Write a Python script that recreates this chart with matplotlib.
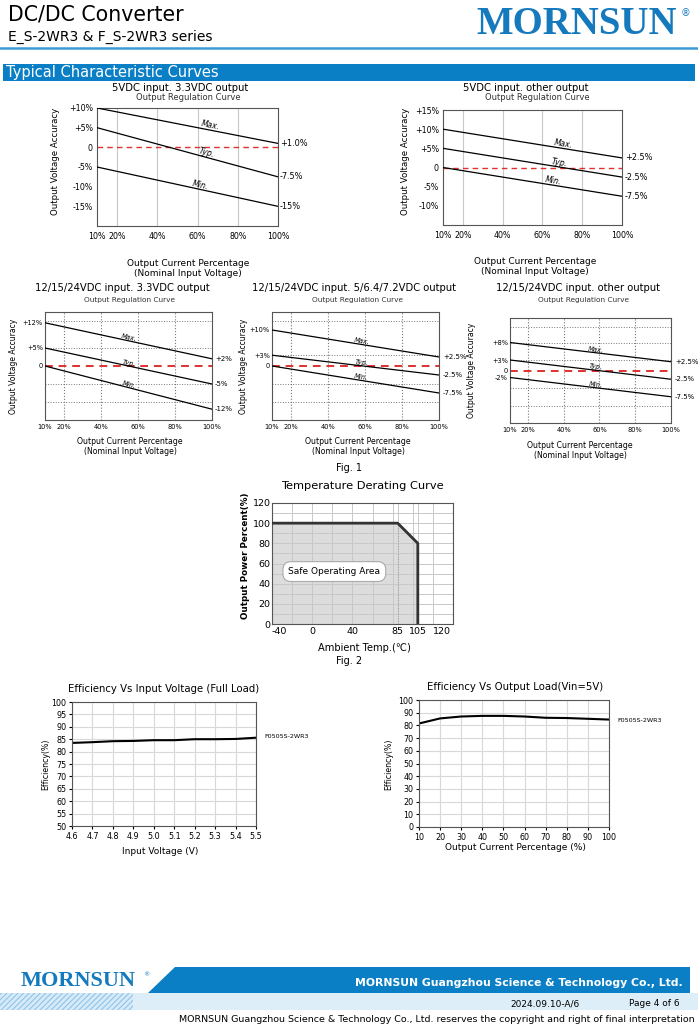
import math
import matplotlib
matplotlib.use("Agg")
import matplotlib.pyplot as plt
from matplotlib.patches import Polygon, Rectangle

W, H = 698, 1027
BLUE = '#0A7FC6'
LOGO = '#1479bd'
GRID = '#c8c8c8'

# ---- data ----
load_ends = [10, 100]

# 5VDC input, 3.3VDC output
c1_max = [10, 1.0]
c1_typ = [5, -7.5]
c1_min = [-5, -15]
# 5VDC input, other output
c2_max = [10, 2.5]
c2_typ = [5, -2.5]
c2_min = [0, -7.5]
# 12/15/24VDC input, 3.3VDC output
c3_max = [12, 2]
c3_typ = [5, -5]
c3_min = [0, -12]
# 12/15/24VDC input, 5/6.4/7.2VDC output
c4_max = [10, 2.5]
c4_typ = [3, -2.5]
c4_min = [0, -7.5]
# 12/15/24VDC input, other output
c5_max = [8, 2.5]
c5_typ = [3, -2.5]
c5_min = [-2, -7.5]

# derating curve
temp = [-40, 85, 105, 105]
power = [100, 100, 80, 0]
temp_ticks = [-40, 0, 40, 85, 105, 120]

# efficiency vs input voltage
vin = [4.6, 4.7, 4.8, 4.9, 5.0, 5.1, 5.2, 5.3, 5.4, 5.5]
eff_vin = [83.5, 83.8, 84.2, 84.3, 84.6, 84.6, 85.0, 85.0, 85.1, 85.6]

# efficiency vs output load
load = [10, 20, 30, 40, 50, 60, 70, 80, 90, 100]
eff_load = [81.5, 85.5, 87.0, 87.5, 87.5, 87.0, 86.0, 85.8, 85.2, 84.6]

fig = plt.figure(figsize=(W / 100, H / 100), dpi=100)
plt.rcParams['font.family'] = ['DejaVu Sans']

# background axes in pixel coordinates (header, footer, loose labels)
bg = fig.add_axes([0, 0, 1, 1], zorder=0)
bg.set_xlim(0, W)
bg.set_ylim(H, 0)
bg.axis('off')


def px_axes(x0, y0, x1, y1):
    return fig.add_axes([x0 / W, 1 - y1 / H, (x1 - x0) / W, (y1 - y0) / H], zorder=2)


def txt(x, y, s, size, **kw):
    kw.setdefault('va', 'center')
    bg.text(x, y, s, fontsize=size, **kw)


# ---- header ----
txt(8, 15, 'DC/DC Converter', 14.8)
txt(8, 37, 'E_S-2WR3 & F_S-2WR3 series', 10)
txt(677, 24, 'MORNSUN', 28, ha='right', color=LOGO, family='Liberation Serif',
    weight='bold')
txt(686, 13, '®', 7, ha='center', color=LOGO)
bg.plot([0, W], [47.5, 47.5], color='#3d9ad9', lw=1.8)
bg.add_patch(Rectangle((3, 64), 692, 17, color=BLUE, lw=0))
txt(6, 73, 'Typical Characteristic Curves', 10.5, color='white')


def reg_chart(box, ylim, yticks, ylabels, hgrid, curves, right_lbls, big, title, tpos, spos,
              ylab_x, xlab_pos, lbl_x, lbl_at):
    ax = px_axes(*box)
    fs = 5.7 if big else 4.8
    ax.set_xlim(10, 100)
    ax.set_ylim(*ylim)
    ax.set_xticks([10, 20, 40, 60, 80, 100])
    ax.set_xticklabels(['10%', '20%', '40%', '60%', '80%', '100%'], fontsize=fs)
    ax.set_yticks(yticks)
    ax.set_yticklabels(ylabels, fontsize=fs)
    ax.tick_params(axis='x', length=0, pad=4.5 if big else 3)
    ax.tick_params(axis='y', length=0, pad=3 if big else 1.5)
    ls = '-' if big else ':'
    for gx in [20, 40, 60, 80]:
        ax.axvline(gx, color=GRID if big else '#777777', lw=0.8, ls=ls, zorder=1)
    for gy in hgrid:
        ax.axhline(gy, color='#777777', lw=0.7, ls=':', zorder=1)
    for s in ax.spines.values():
        s.set_color('#555555')
        s.set_linewidth(0.8)
    ax.axhline(0, color='#e03030', lw=1.0 if big else 1.4, ls=(0, (4, 3)), zorder=2)
    names = ['Max.', 'Typ.', 'Min.']
    for c, name, xm in zip(curves, names, lbl_at):
        ax.plot(load_ends, c, color='black', lw=0.9, zorder=3)
        ang = math.degrees(math.atan2(c[1] - c[0], load_ends[1] - load_ends[0]))
        ym = c[0] + (c[1] - c[0]) * (xm - 10) / 90
        ax.text(xm, ym, name, fontsize=fs, rotation=ang, transform_rotates_text=True,
                rotation_mode='anchor', ha='center', va='bottom', style='italic')
    for c, lbl in zip(curves, right_lbls):
        y_px = box[1] + (ylim[1] - c[1]) / (ylim[1] - ylim[0]) * (box[3] - box[1])
        txt(lbl_x, y_px, lbl, fs + 0.2)
    txt(tpos[0], tpos[1], title, 7.2, ha='center')
    txt(spos[0], spos[1], 'Output Regulation Curve', 6.0 if big else 5.3, ha='center',
        color='#333333')
    txt(ylab_x, (box[1] + box[3]) / 2 - (6 if big else 0), 'Output Voltage Accuracy',
        6.2 if big else 5.5, rotation=90, ha='center')
    xfs = 6.5 if big else 5.6
    txt(xlab_pos[0], xlab_pos[1], 'Output Current Percentage', xfs, ha='center')
    txt(xlab_pos[0], xlab_pos[1] + 10, '(Nominal Input Voltage)', xfs, ha='center')
    return ax


reg_chart((97, 108, 278, 226), (-20, 10), [10, 5, 0, -5, -10, -15],
          ['+10%', '+5%', '0', '-5%', '-10%', '-15%'], [], [c1_max, c1_typ, c1_min],
          ['+1.0%', '-7.5%', '-15%'], True, '5VDC input. 3.3VDC output', (180, 88),
          (188, 97), 56, (188, 263), 280, [66, 64, 61])
reg_chart((443, 110, 622, 225), (-15, 15), [15, 10, 5, 0, -5, -10],
          ['+15%', '+10%', '+5%', '0', '-5%', '-10%'], [], [c2_max, c2_typ, c2_min],
          ['+2.5%', '-2.5%', '-7.5%'], True, '5VDC input. other output', (526, 88),
          (537, 97), 405, (535, 262), 625, [70, 68, 65])
reg_chart((45, 312, 212, 420), (-15, 15), [12, 5, 0], ['+12%', '+5%', '0'],
          [12.5, 5, -5, -10], [c3_max, c3_typ, c3_min], ['+2%', '-5%', '-12%'], False,
          '12/15/24VDC input. 3.3VDC output', (122, 288), (130, 300), 14, (130, 442), 215,
          [55, 55, 55])
reg_chart((272, 312, 439, 420), (-15, 15), [10, 3, 0], ['+10%', '+3%', '0'],
          [12.5, 3, -5, -10], [c4_max, c4_typ, c4_min], ['+2.5%', '-2.5%', '-7.5%'], False,
          '12/15/24VDC input. 5/6.4/7.2VDC output', (354, 288), (358, 300), 244,
          (358, 442), 443, [58, 58, 58])
reg_chart((510, 318, 671, 423), (-15, 15), [8, 3, 0, -2], ['+8%', '+3%', '0', '-2%'],
          [12.5, 8, 3, -5, -10], [c5_max, c5_typ, c5_min], ['+2.5%', '-2.5%', '-7.5%'],
          False, '12/15/24VDC input. other output', (578, 288), (583, 300), 472,
          (580, 445), 675, [58, 58, 58])
txt(349, 468, 'Fig. 1', 7, ha='center')

# ---- derating curve ----
ax = px_axes(272, 503, 453, 624)
ax.set_xlim(-40, 140)
ax.set_ylim(0, 120)
ax.set_xticks(range(-40, 141, 20), minor=True)
ax.set_yticks(range(0, 121, 10), minor=True)
ax.set_xticks(temp_ticks)
ax.set_xticklabels([str(t) for t in temp_ticks])
ax.set_yticks(range(0, 121, 20))
ax.tick_params(labelsize=6.8, length=0, which='both')
ax.tick_params(axis='x', pad=2)
ax.tick_params(axis='y', pad=1)
xl = ax.get_xticklabels()
xl[0].set_horizontalalignment('left')
xl[-1].set_horizontalalignment('left')
ax.grid(True, which='both', color=GRID, lw=0.7)
ax.set_axisbelow(True)
ax.fill_between(temp, power, color='#dcdcdc', zorder=0.3)
ax.plot([85, 85], [0, 100], color='#999999', lw=0.7, ls=':', zorder=2)
ax.plot(temp, power, color='#333333', lw=2, zorder=3)
for s in ax.spines.values():
    s.set_color('#555555')
ax.text(22, 52, 'Safe Operating Area', fontsize=6.5, ha='center', va='center', zorder=4,
        bbox=dict(boxstyle='round,pad=0.6,rounding_size=0.9', fc='white', ec='#aaaaaa', lw=0.8))
txt(362, 486, 'Temperature Derating Curve', 8.2, ha='center')
txt(246, 556, 'Output Power Percent(%)', 6.3, rotation=90, ha='center', weight='bold')
txt(364, 648, 'Ambient Temp.(℃)', 7.1, ha='center')
txt(349, 661, 'Fig. 2', 7, ha='center')

# ---- efficiency vs input voltage ----
ax = px_axes(72, 702, 256, 826)
ax.set_xlim(4.6, 5.5)
ax.set_ylim(50, 100)
ax.set_xticks(vin)
ax.set_xticklabels(['%.1f' % v for v in vin])
ax.set_yticks(range(50, 101, 5))
ax.tick_params(labelsize=5.8, length=2, pad=2)
ax.grid(True, color='#d8d8d8', lw=0.8)
ax.set_axisbelow(True)
ax.plot(vin, eff_vin, color='black', lw=1.5)
for s in ax.spines.values():
    s.set_color('#555555')
txt(164, 689, 'Efficiency Vs Input Voltage (Full Load)', 7.3, ha='center')
txt(46, 764, 'Efficiency(%)', 5.7, rotation=90, ha='center')
txt(160, 851, 'Input Voltage (V)', 6.5, ha='center')
txt(264, 737, 'F0505S-2WR3', 4.6)

# ---- efficiency vs output load ----
ax = px_axes(419, 700, 609, 827)
ax.set_xlim(10, 100)
ax.set_ylim(0, 100)
ax.set_xticks(load)
ax.set_yticks(range(0, 101, 10))
ax.tick_params(labelsize=5.8, length=2, pad=2)
ax.grid(True, color='#d8d8d8', lw=0.8)
ax.set_axisbelow(True)
ax.plot(load, eff_load, color='black', lw=1.5)
for s in ax.spines.values():
    s.set_color('#555555')
txt(515, 687, 'Efficiency Vs Output Load(Vin=5V)', 7.3, ha='center')
txt(389, 764, 'Efficiency(%)', 5.7, rotation=90, ha='center')
txt(515, 848, 'Output Current Percentage (%)', 6.5, ha='center')
txt(617, 720, 'F0505S-2WR3', 4.6)

# ---- footer ----
plt.rcParams['hatch.linewidth'] = 0.8
bg.add_patch(Polygon([(0, 993), (149, 993), (133, 1010), (0, 1010)], closed=True,
                     fc='#d6eaf8', ec='#8ec4ea', lw=0, hatch='//////'))
bg.add_patch(Rectangle((133, 993), 565, 17, fc='#ddeef9', ec='none'))
bg.add_patch(Polygon([(148, 993), (175, 967), (690, 967), (690, 993)], closed=True,
                     fc=BLUE, ec='none'))
txt(21, 981, 'MORNSUN', 16, color=LOGO, family='Liberation Serif', weight='bold')
txt(143, 975, '®', 4.5, color=LOGO)
txt(683, 983, 'MORNSUN Guangzhou Science & Technology Co., Ltd.', 7.8, ha='right',
    color='white', weight='bold')
txt(580, 1004, '2024.09.10-A/6', 6.5, ha='right')
txt(680, 1004, 'Page 4 of 6', 6.5, ha='right')
txt(695, 1019, 'MORNSUN Guangzhou Science & Technology Co., Ltd. reserves the copyright '
    'and right of final interpretation', 6.8, ha='right')

fig.savefig('out.png', dpi=100)
